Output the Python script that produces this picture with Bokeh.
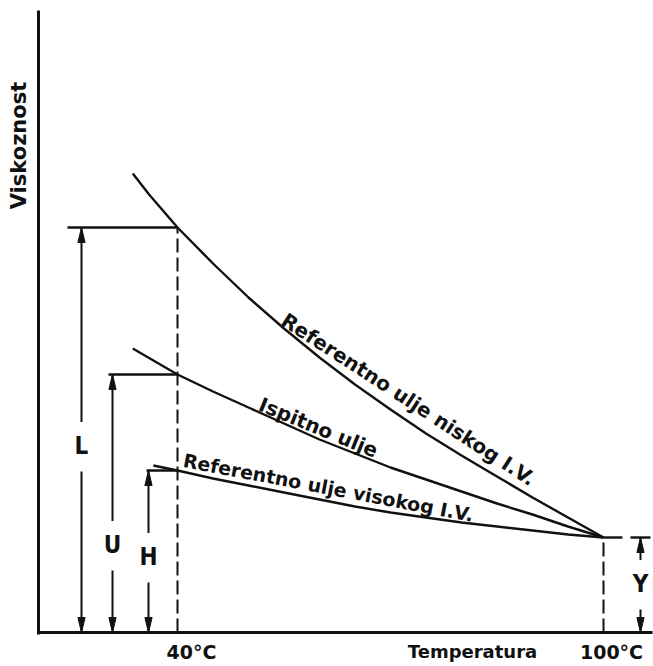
import math
from bokeh.plotting import figure
from bokeh.models import Range1d
from bokeh.core.properties import value
from bokeh.embed import file_html
from bokeh.resources import INLINE

# ---------------- data ----------------
temps_low = [33.7, 36, 40, 45, 50, 55, 60, 65, 70, 75, 80, 85, 90, 95, 100]
visc_low_vi = [459, 438, 405, 369, 335, 304, 275, 248, 223, 199, 177, 156, 135, 115, 95]  # Referentno ulje niskog I.V.
temps_test = [33.7, 40, 45, 50, 55, 60, 65, 70, 75, 80, 85, 90, 95, 100]
visc_test = [284, 258, 241, 225, 209, 193, 179, 165, 153, 141, 129, 118, 106, 95]          # Ispitno ulje
temps_high = [36.6, 40, 45, 50, 55, 60, 65, 70, 75, 80, 85, 90, 95, 100]
visc_high_vi = [167, 162, 154, 147, 140, 133, 126, 120, 115, 110, 106, 102, 98, 95]       # Referentno ulje visokog I.V.

x_tick_values = [40, 100]
x_tick_labels = ["40°C", "100°C"]
x_title = "Temperatura"
y_title = "Viskoznost"
curve_labels = ["Referentno ulje niskog I.V.", "Ispitno ulje", "Referentno ulje visokog I.V."]
dim_labels = ["L", "U", "H", "Y"]

L = visc_low_vi[temps_low.index(40)]
U = visc_test[temps_test.index(40)]
H = visc_high_vi[temps_high.index(40)]
Y = visc_low_vi[temps_low.index(100)]

# ---------------- layout (pixel geometry of the page) ----------------
W, HGT = 653, 666
PX_PER_DEG = 7.1
X40 = 177              # px of 40 °C
Y0 = 632               # px of zero viscosity


def T(px):  # px -> temperature units
    return 40 + (px - X40) / PX_PER_DEG


p = figure(width=W, height=HGT, output_backend="svg", toolbar_location=None,
           x_range=Range1d(T(0), T(W)), y_range=Range1d(Y0 - HGT, Y0),
           x_axis_location=None, y_axis_location=None, min_border=0)
p.outline_line_color = None
p.xgrid.visible = False
p.ygrid.visible = False
p.background_fill_color = "white"
p.border_fill_color = "white"

ink = "#111111"
FONT = value("DejaVu Sans")
FONT_C = value("DejaVu Sans Condensed")

# axes drawn as thick lines
x_axis0 = T(38)
p.segment(x0=[x_axis0], y0=[-2], x1=[x_axis0], y1=[622], line_width=3, color=ink)
p.segment(x0=[x_axis0], y0=[0], x1=[T(652)], y1=[0], line_width=3, color=ink)

# curves
p.line(temps_low, visc_low_vi, line_width=2.4, color=ink, line_join="round")
p.line(temps_test, visc_test, line_width=2.4, color=ink, line_join="round")
p.line(temps_high, visc_high_vi, line_width=2.4, color=ink, line_join="round")

# horizontal reference lines
p.segment(x0=[T(67), T(108), T(146), 100, T(630)],
          y0=[L, U, H, Y, Y],
          x1=[40, 40, 40, T(622), T(650)],
          y1=[L, U, H, Y, Y], line_width=2.4, color=ink)

# dashed verticals at 40 °C and 100 °C
p.segment(x0=[40, 100], y0=[0, 0], x1=[40, 100], y1=[L, Y],
          line_width=2, color=ink, line_dash="14 5")

# dimension arrows
arrow_x = [T(81), T(112), T(148), T(640)]
arrow_top = [L, U, H, Y]
label_v = [187, 88, 76, 49]
gap = 26
hw = 3.6 / PX_PER_DEG
hl = 15
xs0, ys0, xs1, ys1 = [], [], [], []
tri_x, tri_y = [], []
for ax, top, lv in zip(arrow_x, arrow_top, label_v):
    xs0 += [ax, ax]
    ys0 += [top, 0]
    xs1 += [ax, ax]
    ys1 += [lv + gap * 0.9, lv - gap]
    tri_x.append([ax, ax - hw, ax + hw])
    tri_y.append([top, top - hl, top - hl])
    tri_x.append([ax, ax - hw, ax + hw])
    tri_y.append([0, hl, hl])
p.segment(x0=xs0, y0=ys0, x1=xs1, y1=ys1, line_width=2, color=ink)
p.patches(tri_x, tri_y, fill_color=ink, line_color=ink, line_width=1)

p.text(x=arrow_x, y=label_v, text=dim_labels, text_font=FONT_C, text_font_style="bold",
       text_font_size="24px", text_align="center", text_baseline="middle", color=ink)

# axis texts
p.text(x=[T(18)], y=[487], text=[y_title], angle=math.pi / 2, text_font=FONT,
       text_font_style="bold", text_font_size="21px", text_align="center",
       text_baseline="middle", color=ink)
p.text(x=[T(472)], y=[632 - 651], text=[x_title], text_font=FONT, text_font_style="bold",
       text_font_size="18px", text_align="center", text_baseline="middle", color=ink)
p.text(x=[T(191), T(611)], y=[632 - 651] * 2, text=x_tick_labels, text_font=FONT,
       text_font_style="bold", text_font_size="19px", text_align="center",
       text_baseline="middle", color=ink)

# curve labels
lab_x = [T(408), T(318), T(328)]
lab_y = [632 - 399, 632 - 427, 632 - 487]
lab_a = [-math.atan(0.65), -math.atan(0.41), -math.atan(0.19)]
lab_size = ["20px", "20px", "19px"]
p.text(x=lab_x, y=lab_y, text=curve_labels, angle=lab_a, text_font=FONT,
       text_font_style="bold", text_font_size=lab_size, text_align="center",
       text_baseline="alphabetic", color=ink)

open("out.html", "w").write(file_html(p, INLINE))
